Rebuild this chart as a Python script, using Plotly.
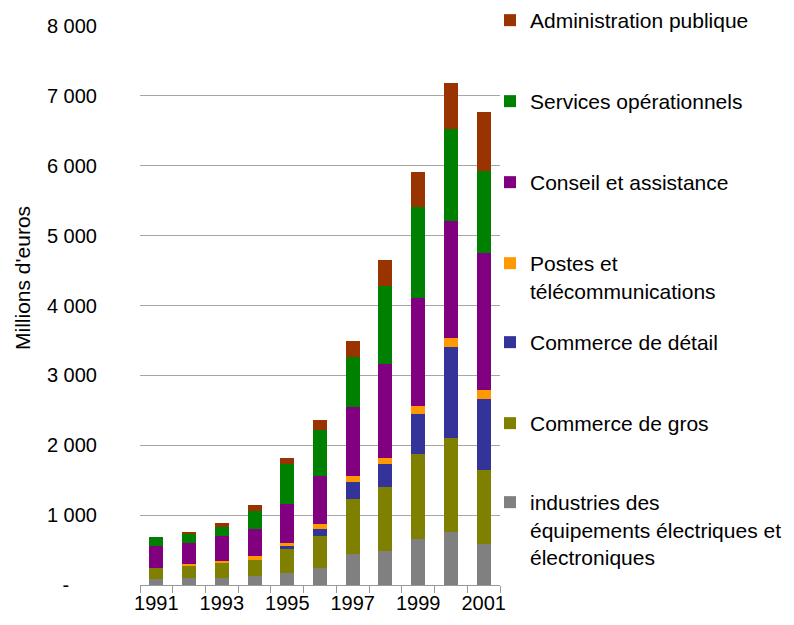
import plotly.graph_objects as go

years = [1991, 1992, 1993, 1994, 1995, 1996, 1997, 1998, 1999, 2000, 2001]

industries = [85, 104, 104, 133, 171, 247, 446, 484, 655, 760, 589]
commerce_gros = [160, 171, 214, 227, 342, 456, 779, 912, 1225, 1348, 1054]
commerce_detail = [0, 0, 0, 0, 47, 95, 247, 332, 570, 1301, 1026]
postes = [0, 28, 28, 57, 38, 75, 95, 95, 114, 124, 123]
conseil = [315, 295, 356, 381, 560, 694, 987, 1339, 1539, 1671, 1956]
services = [125, 133, 124, 256, 570, 645, 713, 1112, 1300, 1320, 1178]
administration = [0, 24, 57, 86, 95, 153, 223, 384, 509, 655, 845]

series = [
    ("industries des<br>équipements électriques et<br>électroniques", industries, "#808080"),
    ("Commerce de gros", commerce_gros, "#808000"),
    ("Commerce de détail", commerce_detail, "#333399"),
    ("Postes et<br>télécommunications", postes, "#FF9900"),
    ("Conseil et assistance", conseil, "#800080"),
    ("Services opérationnels", services, "#008000"),
    ("Administration publique", administration, "#993300"),
]

# first-line centre (px from top) of each legend entry, bottom series first
legend_px = [503, 424, 343, 264, 183, 102, 21]

y_ticks = [0, 1000, 2000, 3000, 4000, 5000, 6000, 7000, 8000]
y_text = ["-" + "\u00a0" * 5, "1 000", "2 000", "3 000", "4 000", "5 000", "6 000", "7 000", "8 000"]
x_ticks = [1991, 1993, 1995, 1997, 1999, 2001]

FONT = "Liberation Sans, Arial, sans-serif"

fig = go.Figure()
layout_legends = {}
for i, (name, vals, col) in enumerate(series):
    lname = "legend" if i == 0 else f"legend{i+1}"
    fig.add_trace(go.Bar(
        x=years, y=vals, name=name, marker=dict(color=col, line=dict(width=0)),
        width=0.43, legend=lname,
    ))
    layout_legends[lname] = dict(
        xref="container", yref="container",
        x=490 / 794, y=1 - (legend_px[i] - 21) / 625,
        xanchor="left", yanchor="top", valign="top",
        font=dict(family=FONT, size=21, color="#000000"),
        bgcolor="rgba(0,0,0,0)", borderwidth=0,
    )

fig.update_layout(
    barmode="stack",
    width=794, height=625,
    margin=dict(l=140, r=294, t=26, b=40, autoexpand=False),
    paper_bgcolor="white", plot_bgcolor="white",
    font=dict(family=FONT, size=20, color="#000000"),
    showlegend=True,
    **layout_legends,
)

fig.update_xaxes(
    range=[1990.5, 2001.5],
    tickmode="array", tickvals=x_ticks, ticktext=[str(v) for v in x_ticks],
    ticks="", showgrid=False, zeroline=False,
    showline=True, linecolor="#999999", linewidth=1,
    tickfont=dict(size=20),
    minor=dict(tickmode="array", tickvals=[y + 0.5 for y in range(1990, 2002)],
               ticks="outside", ticklen=7, tickcolor="#999999", tickwidth=1, showgrid=False),
)

fig.update_yaxes(
    range=[0, 8000],
    tickmode="array", tickvals=y_ticks, ticktext=y_text,
    showgrid=True, gridcolor="#a6a6a6", gridwidth=1,
    zeroline=False, showline=False, ticks="",
    ticklabelstandoff=42,
    tickfont=dict(size=20),
)

fig.add_annotation(
    text="Millions d'euros", textangle=-90,
    xref="paper", yref="paper", x=(22 - 140) / 360, y=(585 - 278) / 559,
    xanchor="center", yanchor="middle", showarrow=False,
    font=dict(family=FONT, size=21, color="#000000"),
)

fig.write_html("out.html")
